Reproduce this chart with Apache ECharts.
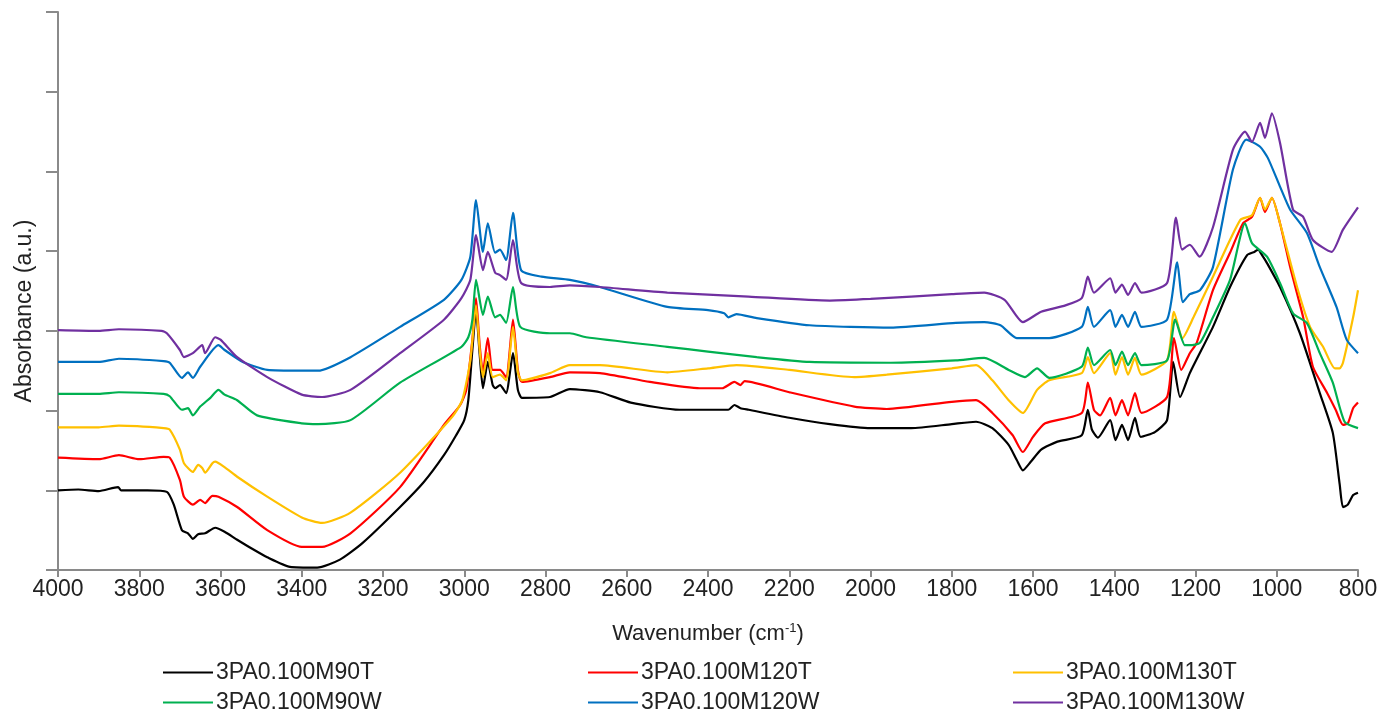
<!DOCTYPE html>
<html>
<head>
<meta charset="utf-8">
<script src="https://cdn.jsdelivr.net/npm/echarts@6/dist/echarts.min.js"></script>
<style>
  html, body { margin: 0; padding: 0; background: #fff; }
  #chart { width: 1382px; height: 719px; }
</style>
</head>
<body>
<div id="chart"></div>
<script>
// FTIR spectra, [wavenumber (cm-1), absorbance (a.u.)]
const seriesNames = ['3PA0.100M90T', '3PA0.100M120T', '3PA0.100M130T', '3PA0.100M90W', '3PA0.100M120W', '3PA0.100M130W'];
const seriesColors = ['#000000', '#ff0000', '#ffc000', '#00b050', '#0070c0', '#7030a0'];
const xTicks = [800, 4000, 200];

const m90T = [
  [4000, 1.00], [3950, 1.01], [3900, 0.99], [3852, 1.04], [3845, 1.00], [3780, 1.00], [3732, 0.98],
  [3715, 0.82], [3695, 0.50], [3680, 0.46], [3668, 0.39], [3655, 0.45], [3638, 0.46], [3613, 0.53],
  [3590, 0.48], [3559, 0.38], [3520, 0.26], [3485, 0.16], [3429, 0.04], [3362, 0.03], [3306, 0.13],
  [3250, 0.34], [3158, 0.79], [3100, 1.10], [3050, 1.44], [3020, 1.69], [3000, 1.88], [2990, 2.13],
  [2980, 2.76], [2971, 3.26], [2962, 2.70], [2954, 2.28], [2942, 2.61], [2930, 2.32], [2924, 2.28],
  [2912, 2.32], [2897, 2.22], [2880, 2.72], [2868, 2.26], [2858, 2.16], [2789, 2.17], [2740, 2.27],
  [2666, 2.23], [2590, 2.10], [2470, 2.01], [2350, 2.01], [2335, 2.07], [2320, 2.03], [2300, 2.01],
  [2200, 1.91], [2100, 1.83], [2000, 1.78], [1900, 1.78], [1800, 1.83], [1740, 1.86], [1700, 1.78],
  [1660, 1.57], [1640, 1.38], [1625, 1.25], [1605, 1.36], [1580, 1.51], [1540, 1.61], [1480, 1.69],
  [1465, 2.01], [1455, 1.76], [1440, 1.66], [1410, 1.88], [1397, 1.63], [1381, 1.82], [1366, 1.63],
  [1349, 1.91], [1335, 1.67], [1300, 1.73], [1270, 1.88], [1255, 2.61], [1238, 2.17], [1214, 2.47],
  [1157, 3.05], [1115, 3.55], [1073, 3.95], [1055, 3.99], [1046, 4.02], [1035, 3.94], [1024, 3.85],
  [992, 3.55], [943, 2.97], [894, 2.22], [862, 1.72], [845, 1.07], [837, 0.79], [825, 0.82],
  [812, 0.94], [800, 0.97]
];

const m120T = [
  [4000, 1.41], [3900, 1.39], [3850, 1.44], [3800, 1.39], [3740, 1.42], [3725, 1.41], [3700, 1.13],
  [3690, 0.92], [3668, 0.82], [3650, 0.88], [3638, 0.84], [3620, 0.93], [3605, 0.92], [3559, 0.79],
  [3485, 0.50], [3400, 0.29], [3350, 0.29], [3280, 0.46], [3158, 1.04], [3050, 1.82], [3010, 2.07],
  [2995, 2.26], [2980, 2.89], [2971, 3.41], [2962, 2.82], [2954, 2.48], [2942, 2.91], [2930, 2.51],
  [2912, 2.51], [2897, 2.42], [2880, 3.14], [2868, 2.51], [2858, 2.36], [2789, 2.42], [2740, 2.48],
  [2666, 2.47], [2543, 2.36], [2420, 2.28], [2365, 2.28], [2335, 2.36], [2320, 2.32], [2310, 2.37],
  [2200, 2.23], [2040, 2.05], [1960, 2.02], [1800, 2.11], [1740, 2.13], [1700, 1.97], [1650, 1.69],
  [1625, 1.48], [1600, 1.67], [1570, 1.84], [1480, 1.97], [1465, 2.35], [1450, 2.01], [1435, 1.94],
  [1410, 2.16], [1397, 1.94], [1381, 2.13], [1366, 1.94], [1349, 2.22], [1333, 1.97], [1270, 2.17],
  [1253, 2.91], [1235, 2.51], [1214, 2.72], [1197, 2.85], [1157, 3.51], [1115, 3.98], [1083, 4.35],
  [1061, 4.43], [1041, 4.67], [1029, 4.49], [1012, 4.67], [992, 4.35], [967, 3.80], [935, 3.17],
  [911, 2.55], [876, 2.22], [855, 2.01], [837, 1.82], [825, 1.84], [812, 2.03], [800, 2.10]
];

const m130T = [
  [4000, 1.79], [3900, 1.79], [3850, 1.81], [3740, 1.78], [3725, 1.76], [3700, 1.51], [3690, 1.34],
  [3668, 1.23], [3655, 1.32], [3645, 1.28], [3638, 1.22], [3620, 1.34], [3613, 1.36], [3590, 1.29],
  [3559, 1.17], [3485, 0.92], [3400, 0.66], [3350, 0.59], [3280, 0.72], [3158, 1.22], [3030, 1.92],
  [3005, 2.13], [2985, 2.63], [2971, 3.32], [2962, 2.76], [2954, 2.42], [2942, 2.72], [2930, 2.42],
  [2912, 2.45], [2897, 2.38], [2880, 3.05], [2868, 2.48], [2858, 2.38], [2789, 2.47], [2740, 2.57],
  [2666, 2.57], [2500, 2.48], [2400, 2.53], [2330, 2.57], [2200, 2.51], [2040, 2.42], [1960, 2.45],
  [1800, 2.53], [1740, 2.57], [1700, 2.38], [1660, 2.13], [1625, 1.97], [1590, 2.26], [1560, 2.38],
  [1480, 2.47], [1465, 2.67], [1450, 2.47], [1410, 2.72], [1397, 2.45], [1381, 2.67], [1366, 2.45],
  [1349, 2.66], [1333, 2.45], [1270, 2.63], [1253, 3.24], [1232, 2.91], [1205, 3.17], [1157, 3.68],
  [1090, 4.39], [1061, 4.45], [1041, 4.67], [1029, 4.52], [1012, 4.67], [992, 4.35], [950, 3.55],
  [918, 3.05], [886, 2.80], [857, 2.53], [845, 2.53], [837, 2.60], [812, 3.17], [800, 3.51]
];

const m90W = [
  [4000, 2.21], [3900, 2.21], [3850, 2.23], [3740, 2.21], [3725, 2.18], [3695, 2.01], [3680, 2.03],
  [3668, 1.94], [3650, 2.05], [3625, 2.16], [3605, 2.26], [3590, 2.20], [3559, 2.13], [3510, 1.94],
  [3400, 1.84], [3360, 1.83], [3280, 1.88], [3158, 2.35], [3007, 2.80], [2990, 2.92], [2980, 3.14],
  [2971, 3.64], [2954, 3.20], [2942, 3.43], [2924, 3.17], [2912, 3.20], [2897, 3.10], [2880, 3.55],
  [2862, 3.05], [2789, 2.97], [2740, 2.97], [2700, 2.92], [2500, 2.80], [2400, 2.74], [2280, 2.67],
  [2150, 2.61], [1950, 2.60], [1790, 2.63], [1720, 2.66], [1660, 2.51], [1620, 2.42], [1590, 2.53],
  [1560, 2.41], [1480, 2.55], [1465, 2.79], [1450, 2.57], [1410, 2.76], [1397, 2.57], [1381, 2.74],
  [1366, 2.57], [1349, 2.72], [1333, 2.57], [1270, 2.63], [1250, 3.14], [1226, 2.82], [1214, 2.82],
  [1189, 2.85], [1157, 3.17], [1115, 3.64], [1078, 4.35], [1061, 4.10], [1024, 3.93], [992, 3.60],
  [960, 3.22], [926, 3.10], [894, 2.72], [862, 2.35], [833, 1.86], [800, 1.78]
];

const m120W = [
  [4000, 2.61], [3900, 2.61], [3850, 2.65], [3740, 2.62], [3725, 2.60], [3695, 2.41], [3680, 2.48],
  [3668, 2.41], [3650, 2.55], [3605, 2.82], [3590, 2.76], [3545, 2.61], [3485, 2.51], [3400, 2.50],
  [3360, 2.50], [3280, 2.67], [3158, 3.05], [3050, 3.39], [3007, 3.64], [2985, 3.93], [2971, 4.64],
  [2954, 3.99], [2942, 4.35], [2924, 3.98], [2912, 4.02], [2897, 3.89], [2880, 4.48], [2860, 3.76],
  [2810, 3.68], [2740, 3.64], [2666, 3.55], [2500, 3.30], [2400, 3.26], [2360, 3.22], [2350, 3.17],
  [2330, 3.21], [2280, 3.16], [2150, 3.07], [1950, 3.04], [1790, 3.10], [1720, 3.11], [1680, 3.07],
  [1640, 2.91], [1560, 2.91], [1480, 3.05], [1465, 3.30], [1450, 3.05], [1410, 3.26], [1397, 3.05],
  [1381, 3.20], [1366, 3.05], [1349, 3.24], [1333, 3.05], [1270, 3.14], [1245, 3.86], [1231, 3.36],
  [1214, 3.46], [1189, 3.51], [1157, 3.80], [1108, 5.02], [1075, 5.40], [1041, 5.31], [1022, 5.17],
  [992, 4.81], [967, 4.52], [926, 4.23], [894, 3.80], [853, 3.30], [828, 2.89], [800, 2.72]
];

const m130W = [
  [4000, 3.01], [3900, 3.00], [3850, 3.02], [3745, 3.00], [3732, 2.97], [3700, 2.76], [3690, 2.67],
  [3668, 2.72], [3645, 2.82], [3638, 2.72], [3613, 2.92], [3600, 2.89], [3559, 2.67], [3485, 2.42],
  [3400, 2.20], [3350, 2.17], [3280, 2.26], [3158, 2.72], [3050, 3.14], [3007, 3.41], [2985, 3.64],
  [2971, 4.20], [2954, 3.76], [2942, 3.99], [2924, 3.73], [2912, 3.70], [2897, 3.64], [2880, 4.14],
  [2860, 3.60], [2789, 3.55], [2740, 3.57], [2666, 3.55], [2500, 3.48], [2300, 3.43], [2100, 3.38],
  [2000, 3.40], [1800, 3.46], [1720, 3.48], [1670, 3.39], [1625, 3.11], [1580, 3.24], [1520, 3.32],
  [1480, 3.41], [1465, 3.68], [1450, 3.48], [1410, 3.66], [1397, 3.48], [1381, 3.58], [1366, 3.45],
  [1349, 3.60], [1333, 3.48], [1270, 3.60], [1248, 4.42], [1233, 4.02], [1214, 4.08], [1190, 3.93],
  [1157, 4.30], [1108, 5.27], [1078, 5.50], [1061, 5.37], [1041, 5.61], [1029, 5.42], [1012, 5.73],
  [992, 5.36], [960, 4.52], [935, 4.43], [911, 4.14], [865, 3.99], [837, 4.27], [800, 4.55]
];

const seriesData = [m90T, m120T, m130T, m90W, m120W, m130W];

const font = 'Liberation Sans, Arial, sans-serif';

const chart = echarts.init(document.getElementById('chart'));

const legendBox = (names, left) => ({
  data: names,
  left: left,
  top: 656,
  orient: 'vertical',
  icon: 'rect',
  itemWidth: 50,
  itemHeight: 2,
  itemGap: 7,
  textStyle: { fontFamily: font, fontSize: 23, color: '#222', lineHeight: 22, padding: [0, 0, 0, -2] }
});

chart.setOption({
  backgroundColor: '#fff',
  animation: false,
  grid: { left: 58, right: 24, top: 12, bottom: 149 },
  legend: [
    legendBox([seriesNames[0], seriesNames[3]], 158),
    legendBox([seriesNames[1], seriesNames[4]], 583),
    legendBox([seriesNames[2], seriesNames[5]], 1008)
  ],
  xAxis: {
    type: 'value',
    inverse: true,
    min: xTicks[0],
    max: xTicks[1],
    interval: xTicks[2],
    name: '{a|Wavenumber (cm}{s|-1}{a|)}',
    nameLocation: 'middle',
    nameGap: 52,
    nameTextStyle: {
      rich: {
        a: { fontFamily: font, fontSize: 22, color: '#222' },
        s: { fontFamily: font, fontSize: 13, color: '#222', verticalAlign: 'top', padding: [0, 0, 10, 0] }
      }
    },
    axisLine: { lineStyle: { color: '#8a8a8a', width: 2 } },
    axisTick: { length: 7, lineStyle: { color: '#8a8a8a', width: 2 } },
    axisLabel: { fontFamily: font, fontSize: 23, color: '#222', margin: 8, formatter: v => String(v) },
    splitLine: { show: false }
  },
  yAxis: {
    type: 'value',
    min: 0,
    max: 7,
    interval: 1,
    name: 'Absorbance (a.u.)',
    nameLocation: 'middle',
    nameGap: 22,
    nameTextStyle: { fontFamily: font, fontSize: 23, color: '#222', padding: [0, 40, 0, 0] },
    axisLine: { show: true, lineStyle: { color: '#8a8a8a', width: 2 } },
    axisTick: { show: true, length: 12, lineStyle: { color: '#8a8a8a', width: 2 } },
    axisLabel: { show: false },
    splitLine: { show: false }
  },
  series: seriesNames.map((name, i) => ({
    name: name,
    type: 'line',
    data: seriesData[i],
    showSymbol: false,
    smooth: 0.2,
    color: seriesColors[i],
    lineStyle: { width: 2.2, color: seriesColors[i] }
  }))
});
</script>
</body>
</html>
